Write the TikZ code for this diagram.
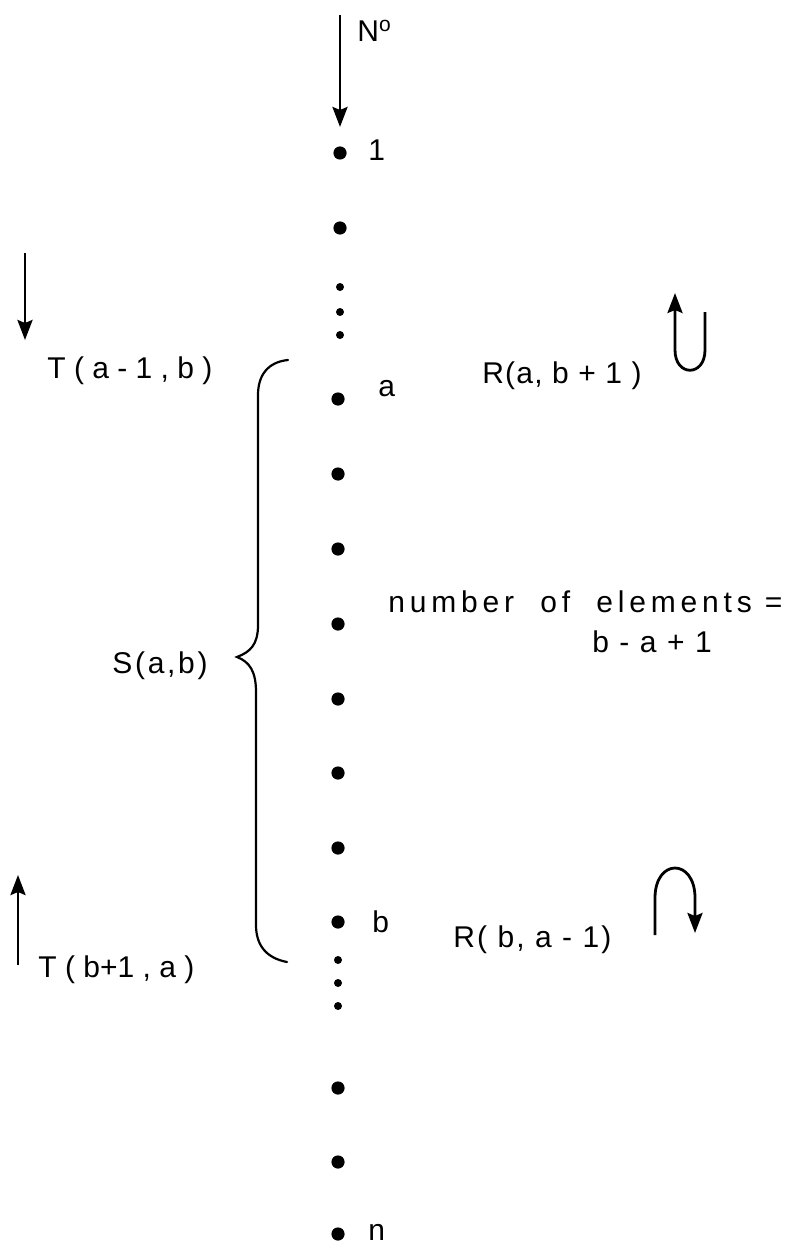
\documentclass[tikz,border=0pt]{standalone}
\usepackage{fontspec}
\setmainfont{Liberation Sans}
\usetikzlibrary{arrows.meta}
\newcommand\lsz{\fontsize{15}{18}\selectfont}

\begin{document}
\begin{tikzpicture}[
  x=0.5pt, y=-0.5pt,
  font=\lsz,
  % Styles
  dot/.style={circle, fill=black, inner sep=0pt, minimum size=6.6pt},
  smalldot/.style={circle, fill=black, inner sep=0pt, minimum size=4pt},
  lbl/.style={inner sep=0pt, anchor=base west},
  arr/.style={-{Stealth[length=10pt, width=7.5pt, inset=1.5pt]}, line width=1.4pt},
  brace/.style={line width=1.1pt, line cap=round}
]
  \useasboundingbox (0,0) rectangle (788,1246);

  % Column of elements
  \node[dot] (d1) at (340,153) {};
  \node[dot] (d2) at (340,228) {};
  \node[smalldot] (e1) at (340,287) {};
  \node[smalldot] (e2) at (340,312) {};
  \node[smalldot] (e3) at (340,335) {};
  \node[dot] (da) at (338,399) {};
  \node[dot] (d4) at (338,474) {};
  \node[dot] (d5) at (338,549) {};
  \node[dot] (dm) at (338,624) {};
  \node[dot] (d7) at (338,699) {};
  \node[dot] (d8) at (338,773) {};
  \node[dot] (d9) at (338,848) {};
  \node[dot] (db) at (338,922) {};
  \node[smalldot] (e4) at (338,960) {};
  \node[smalldot] (e5) at (338,983) {};
  \node[smalldot] (e6) at (338,1006) {};
  \node[dot] (d10) at (338,1088) {};
  \node[dot] (d11) at (338,1162) {};
  \node[dot] (dn) at (338,1234) {};

  % Labels of the column
  \node[lbl] (l1) at (368,161) {1};
  \node[lbl] (la) at (378,396) {a};
  \node[lbl] (lb) at (372,932) {b};
  \node[lbl] (ln) at (368,1240) {n};
  \node[lbl] (lno) at (357,42) {N\textsuperscript{o}};

  % Left side
  \node[lbl] (tab) at (47,378) {T ( a - 1 , b )};
  \node[lbl, font={\lsz\addfontfeature{LetterSpace=9}}] (sab) at (112,673) {S(a,b)};
  \node[lbl] (tba) at (38,977) {T ( b+1 , a )};

  % Right side
  \node[lbl, font={\lsz\addfontfeature{LetterSpace=4}}] (rab) at (482,383) {R(a, b + 1 )};
  \node[lbl, font={\lsz\addfontfeature{LetterSpace=16}}] (num) at (388,612) {number\ \ of\ \ elements\ =};
  \node[lbl, font={\lsz\addfontfeature{LetterSpace=7}}] (cnt) at (592,652) {b - a + 1};
  \node[lbl, font={\lsz\addfontfeature{LetterSpace=7}}] (rba) at (453,947) {R( b, a - 1)};

  % Arrows
  \coordinate (ntop) at (340,15);
  \draw[arr, shorten >=9.5pt] (ntop) -- (d1);

  \coordinate (tdtop) at (25,253);
  \coordinate (tdend) at (25,340);
  \draw[arr] (tdtop) -- (tdend);

  \coordinate (tubot) at (18,965);
  \coordinate (tuend) at (18,875);
  \draw[arr] (tubot) -- (tuend);

  \coordinate (uright) at (705,312);
  \coordinate (uleft) at (675,293);
  \draw[arr] (uright) -- (705,350) .. controls (705,377) and (675,377) .. (675,350) -- (uleft);

  \coordinate (cleft) at (655,935);
  \coordinate (cright) at (695,933);
  \draw[arr] (cleft) -- (655,898) .. controls (655,858) and (695,858) .. (695,898) -- (cright);

  % Brace round S(a,b)
  \draw[brace] (288,360) .. controls (268,362) and (258,375) .. (258,395) -- (258,625)
    .. controls (258,645) and (250,652) .. (237,657)
    .. controls (250,662) and (256,672) .. (256,692) -- (256,925)
    .. controls (256,945) and (266,958) .. (287,962);

\end{tikzpicture}
\end{document}
